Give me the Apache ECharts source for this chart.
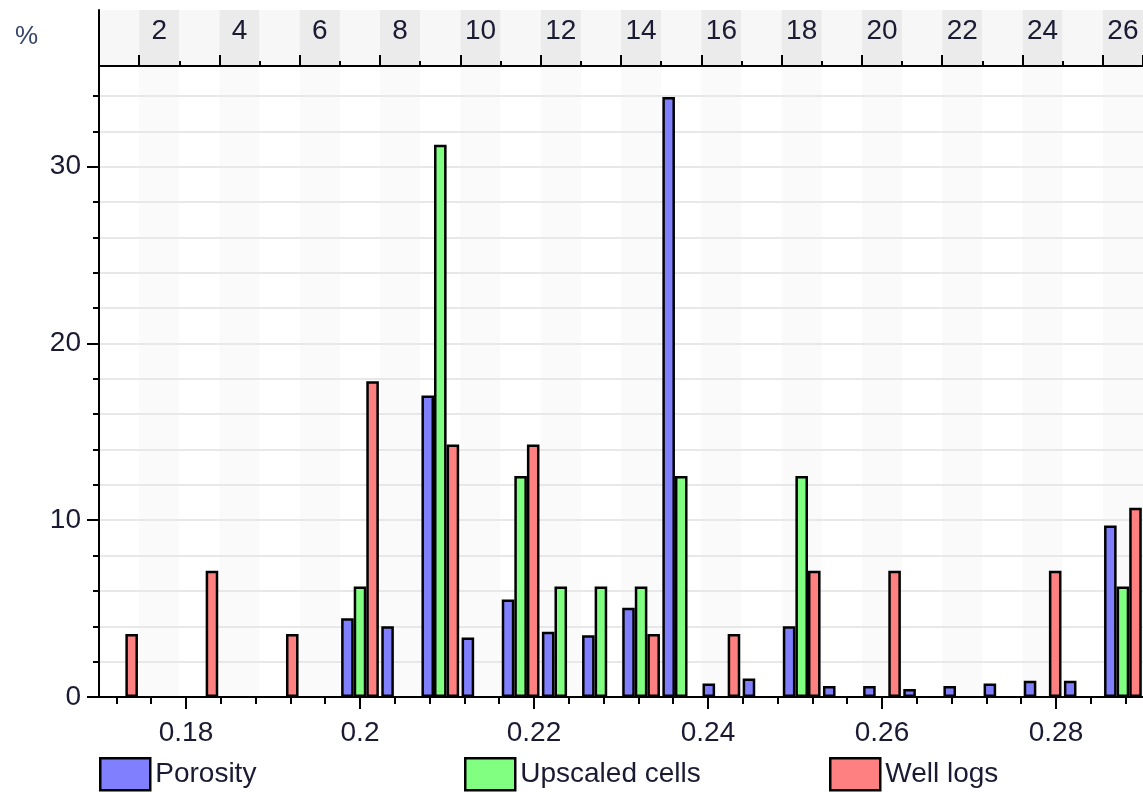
<!DOCTYPE html>
<html>
<head>
<meta charset="utf-8">
<script src="https://cdn.jsdelivr.net/npm/echarts@6/dist/echarts.min.js"></script>
<style>
html,body{margin:0;padding:0;background:#ffffff;}
#chart{width:1143px;height:792px;}
</style>
</head>
<body>
<div id="chart"></div>
<script>
// ---- data ----
const bins = ['1','2','3','4','5','6','7','8','9','10','11','12','13','14','15','16','17','18','19','20','21','22','23','24','25','26'];
const porosity = [null,null,null,null,null,null,4.45,4.0,17.06,3.37,5.52,3.69,3.5,5.05,33.95,0.77,1.05,4.0,0.62,0.62,0.45,0.62,0.77,0.92,0.92,9.7];
const upscaledCells = [null,null,null,null,null,null,6.25,null,31.25,null,12.5,6.25,6.25,6.25,12.5,null,null,12.5,null,null,null,null,null,null,null,6.25];
const wellLogs = [3.57,null,7.14,null,3.57,null,17.86,null,14.29,null,14.29,null,null,3.57,null,3.57,null,7.14,null,7.14,null,null,null,7.14,null,10.71];
const seriesNames = ['Porosity','Upscaled cells','Well logs'];
const seriesColors = ['#8080ff','#80ff80','#ff8080'];
const valueRange = [0.17, 0.29];   // bottom axis (porosity value)
const valueTicks = [0.18, 0.2, 0.22, 0.24, 0.26, 0.28];
const percentRange = [0, 35.7];    // y axis
const percentTicks = [0, 10, 20, 30];

const FONT = 'Liberation Sans, Arial, sans-serif';
const TXT = '#1a1a33';
const BLACK = '#000000';
const GRID_L = 99, GRID_W = 1046.5;

const chart = echarts.init(document.getElementById('chart'), null, {renderer: 'canvas'});

const option = {
  animation: false,
  backgroundColor: '#ffffff',
  textStyle: {fontFamily: FONT},
  title: {
    text: '%', left: 10, top: 19,
    textStyle: {fontSize: 26, fontWeight: 'normal', color: '#34466a', fontFamily: FONT}
  },
  grid: [
    {left: GRID_L, top: 66, width: GRID_W, height: 631, containLabel: false},
    {left: GRID_L, top: 10, width: GRID_W, height: 56, containLabel: false}
  ],
  legend: seriesNames.map((n, i) => ({
    data: [n],
    left: [99, 464, 829][i],
    top: 757,
    padding: [0, 0, 0, 0],
    icon: 'rect',
    itemWidth: 50,
    itemHeight: 32,
    itemGap: 0,
    selectedMode: false,
    itemStyle: {borderColor: BLACK, borderWidth: 2.5},
    textStyle: {fontSize: 28, color: TXT, fontFamily: FONT}
  })),
  xAxis: [
    // 0: stripes in plot area
    {
      gridIndex: 0, type: 'category', data: bins, position: 'top', z: 0,
      boundaryGap: true,
      axisLine: {show: false}, axisTick: {show: false}, axisLabel: {show: false},
      splitLine: {show: false},
      splitArea: {show: true, interval: 0, areaStyle: {color: ['#ffffff', '#fafafa']}}
    },
    // 1: top bin axis with labels (bars use it)
    {
      gridIndex: 0, type: 'category', data: bins, position: 'top', z: 1,
      boundaryGap: true,
      axisLine: {show: true, onZero: false, lineStyle: {color: BLACK, width: 2}},
      axisTick: {show: true, interval: 0, length: 5, lineStyle: {color: BLACK, width: 2}},
      axisLabel: {show: true, interval: (i) => i % 2 === 1, margin: 21, fontSize: 28, color: TXT, fontFamily: FONT},
      splitLine: {show: false}, splitArea: {show: false}
    },
    // 2: bottom value axis
    {
      gridIndex: 0, type: 'value', position: 'bottom', z: 1,
      min: valueRange[0], max: valueRange[1], splitNumber: 6,
      axisLine: {show: true, onZero: false, lineStyle: {color: BLACK, width: 2}},
      axisTick: {show: true, length: 12, customValues: valueTicks, lineStyle: {color: BLACK, width: 2}},
      minorTick: {show: true, splitNumber: 5, length: 7, lineStyle: {color: BLACK, width: 2}},
      axisLabel: {
        show: true, margin: 22, fontSize: 28, color: TXT, fontFamily: FONT,
        customValues: valueTicks,
        formatter: (v) => String(+(+v).toFixed(4))
      },
      splitLine: {show: false}, minorSplitLine: {show: false}
    },
    // 3: header band stripes
    {
      gridIndex: 1, type: 'category', data: bins, position: 'bottom', z: 0,
      boundaryGap: true,
      axisLine: {show: false}, axisTick: {show: false}, axisLabel: {show: false},
      splitLine: {show: false},
      splitArea: {show: true, interval: 0, areaStyle: {color: ['#f7f7f7', '#ebebeb']}}
    },
    // 4: header long ticks
    {
      gridIndex: 1, type: 'category', data: bins, position: 'bottom', z: 1,
      boundaryGap: true,
      axisLine: {show: false},
      axisTick: {show: true, inside: true, interval: (i) => i % 2 === 1, length: 11, lineStyle: {color: BLACK, width: 2}},
      axisLabel: {show: false},
      splitLine: {show: false}, splitArea: {show: false}
    }
  ],
  yAxis: [
    {
      gridIndex: 0, type: 'value', z: 1,
      min: percentRange[0], max: percentRange[1], splitNumber: 4,
      axisLine: {show: true, onZero: false, lineStyle: {color: BLACK, width: 2}},
      axisTick: {show: true, length: 12, customValues: percentTicks, lineStyle: {color: BLACK, width: 2}},
      minorTick: {show: true, splitNumber: 5, length: 6, lineStyle: {color: BLACK, width: 2}},
      axisLabel: {
        show: true, margin: 18, fontSize: 28, color: TXT, fontFamily: FONT,
        customValues: percentTicks
      },
      splitLine: {show: true, lineStyle: {color: '#e8e8e8', width: 2}},
      minorSplitLine: {show: true, lineStyle: {color: '#e8e8e8', width: 2}}
    },
    {
      gridIndex: 1, type: 'value', z: 1, min: 0, max: 1,
      axisLine: {show: true, onZero: false, lineStyle: {color: BLACK, width: 2}},
      axisTick: {show: false}, axisLabel: {show: false},
      splitLine: {show: false}
    }
  ],
  series: [porosity, upscaledCells, wellLogs].map((arr, i) => ({
    name: seriesNames[i],
    type: 'bar',
    xAxisIndex: 1,
    yAxisIndex: 0,
    data: arr.map(v => (v === null ? '-' : v)),
    barGap: '0%',
    barCategoryGap: '6%',
    z: 2,
    itemStyle: {color: seriesColors[i], borderColor: BLACK, borderWidth: 2.5}
  }))
};

chart.setOption(option);
</script>
</body>
</html>
